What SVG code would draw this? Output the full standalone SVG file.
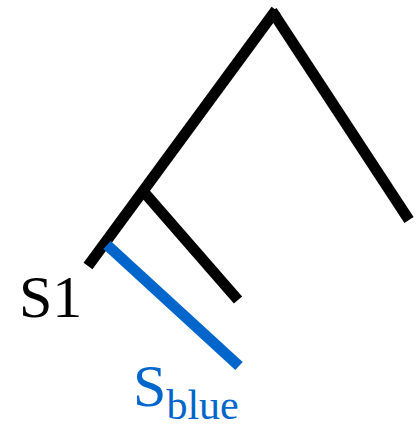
<svg xmlns="http://www.w3.org/2000/svg" width="419" height="430" viewBox="0 0 419 430">
<style>
.k{stroke:#000;stroke-width:11;fill:none;stroke-linecap:butt}
.b{stroke:#0066CC;stroke-width:11;fill:none;stroke-linecap:butt}
.t{font-family:'Liberation Serif','Times New Roman',Times,'DejaVu Serif',serif}
</style>
<rect width="419" height="430" fill="#fff"/>
<g id="edges">
<line class="k" x1="88" y1="266" x2="276" y2="10"/>
<line class="k" x1="272" y1="11" x2="409" y2="220"/>
<line class="k" x1="143" y1="191" x2="238" y2="300"/>
<line class="b" x1="107" y1="245" x2="239" y2="366"/>
</g>
<g id="S1"><text class="t" x="19" y="317" font-size="60">S1</text></g>
<g id="Sblue"><text class="t" x="133" y="406" font-size="60" fill="#0066CC">S<tspan font-size="42" dy="13">blue</tspan></text></g>
</svg>
